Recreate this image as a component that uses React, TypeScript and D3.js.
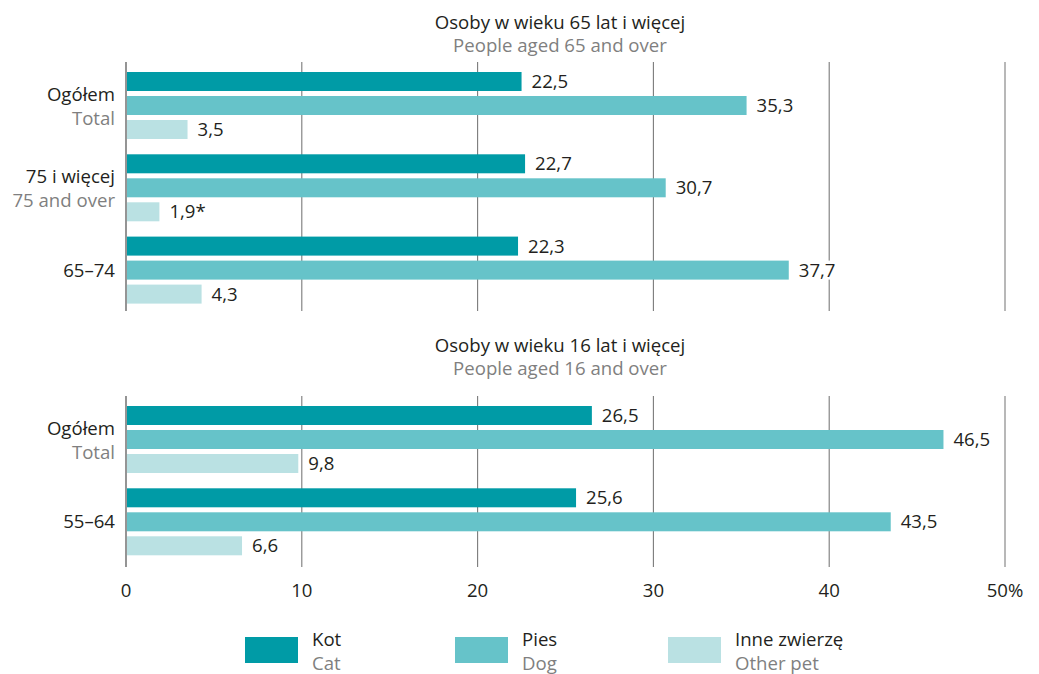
import React from "react";
import * as d3 from "d3";

const topCategories = [
  ["Ogółem", "Total"],
  ["75 i więcej", "75 and over"],
  ["65–74", ""],
];
const topKot = [22.5, 22.7, 22.3];
const topPies = [35.3, 30.7, 37.7];
const topInne = [3.5, 1.9, 4.3];
const topInneLabels = ["3,5", "1,9*", "4,3"];

const bottomCategories = [
  ["Ogółem", "Total"],
  ["55–64", ""],
];
const bottomKot = [26.5, 25.6];
const bottomPies = [46.5, 43.5];
const bottomInne = [9.8, 6.6];

const ticks = [0, 10, 20, 30, 40, 50];
const tickLabels = ["0", "10", "20", "30", "40", "50%"];

const seriesNames = [
  ["Kot", "Cat"],
  ["Pies", "Dog"],
  ["Inne zwierzę", "Other pet"],
];
const colors = ["#009ba6", "#66c3c9", "#bae1e3"];

const FONT = "'Open Sans', 'Noto Sans', sans-serif";
const DARK = "#231f20";
const GRAY = "#7f7f80";
const FS = 18.6;

const x = d3.scaleLinear().domain([0, 50]).range([126, 1005]);
const fmt = (v: number) => v.toFixed(1).replace(".", ",");

function Panel({
  cats,
  kot,
  pies,
  inne,
  inneLabels,
  top,
  bottom,
  firstBar,
  title1,
  title2,
  titleY,
}: any) {
  const series = [kot, pies, inne];
  const groupStep = 82.3;
  const barStep = 24;
  const barH = 19;
  const groups = d3.range(cats.length);
  return (
    <g>
      <text x={560} y={titleY} textAnchor="middle" fontSize={FS} fill={DARK} fontFamily={FONT}>
        {title1}
      </text>
      <text x={560} y={titleY + 23} textAnchor="middle" fontSize={FS} fill={GRAY} fontFamily={FONT}>
        {title2}
      </text>
      {ticks.map((t, i) => (
        <line
          key={t}
          x1={x(t)}
          x2={x(t)}
          y1={top}
          y2={bottom}
          stroke={i === 5 ? "#9a9a9a" : "#7a7a7a"}
          strokeWidth={i === 0 ? 1.6 : i === 5 ? 1.4 : 1.1}
        />
      ))}
      {groups.map((g) => {
        const gy = firstBar + g * groupStep;
        const cat = cats[g];
        const labelCenter = gy + barStep + barH / 2;
        return (
          <g key={g}>
            {cat[1] ? (
              <>
                <text x={115} y={labelCenter - 5} textAnchor="end" fontSize={FS} fill={DARK} fontFamily={FONT}>
                  {cat[0]}
                </text>
                <text x={115} y={labelCenter + 19} textAnchor="end" fontSize={FS} fill={GRAY} fontFamily={FONT}>
                  {cat[1]}
                </text>
              </>
            ) : (
              <text x={115} y={labelCenter + 6.5} textAnchor="end" fontSize={FS} fill={DARK} fontFamily={FONT}>
                {cat[0]}
              </text>
            )}
            {series.map((s: number[], si: number) => {
              const y = gy + si * barStep;
              const v = s[g];
              const label = si === 2 && inneLabels ? inneLabels[g] : fmt(v);
              const lx = x(v) + 10;
              const w = label.length * 10.5 + 4;
              return (
                <g key={si}>
                  <rect x={x(0) + 1} y={y} width={x(v) - x(0) - 1} height={barH} fill={colors[si]} />
                  <rect x={lx - 3} y={y} width={w} height={barH} fill="#fff" />
                  <text x={lx} y={y + barH / 2 + 6.5} fontSize={FS} fill={DARK} fontFamily={FONT}>
                    {label}
                  </text>
                </g>
              );
            })}
          </g>
        );
      })}
    </g>
  );
}

export default function App() {
  return (
    <svg width={1039} height={674} style={{ display: "block", position: "absolute", left: 0, top: 0 }}>
      <rect width={1039} height={674} fill="#fff" />
      <Panel
        cats={topCategories}
        kot={topKot}
        pies={topPies}
        inne={topInne}
        inneLabels={topInneLabels}
        top={62}
        bottom={311}
        firstBar={72}
        title1="Osoby w wieku 65 lat i więcej"
        title2="People aged 65 and over"
        titleY={29}
      />
      <Panel
        cats={bottomCategories}
        kot={bottomKot}
        pies={bottomPies}
        inne={bottomInne}
        inneLabels={null}
        top={396}
        bottom={567}
        firstBar={406}
        title1="Osoby w wieku 16 lat i więcej"
        title2="People aged 16 and over"
        titleY={352}
      />
      {ticks.map((t, i) => (
        <text key={t} x={x(t)} y={597} textAnchor="middle" fontSize={FS} fill={DARK} fontFamily={FONT}>
          {tickLabels[i]}
        </text>
      ))}
      {seriesNames.map((n, i) => {
        const lx = [245, 455, 668][i];
        return (
          <g key={i}>
            <rect x={lx} y={637} width={53} height={26} fill={colors[i]} />
            <text x={lx + 67} y={646} fontSize={FS} fill={DARK} fontFamily={FONT}>
              {n[0]}
            </text>
            <text x={lx + 67} y={670} fontSize={FS} fill={GRAY} fontFamily={FONT}>
              {n[1]}
            </text>
          </g>
        );
      })}
    </svg>
  );
}
